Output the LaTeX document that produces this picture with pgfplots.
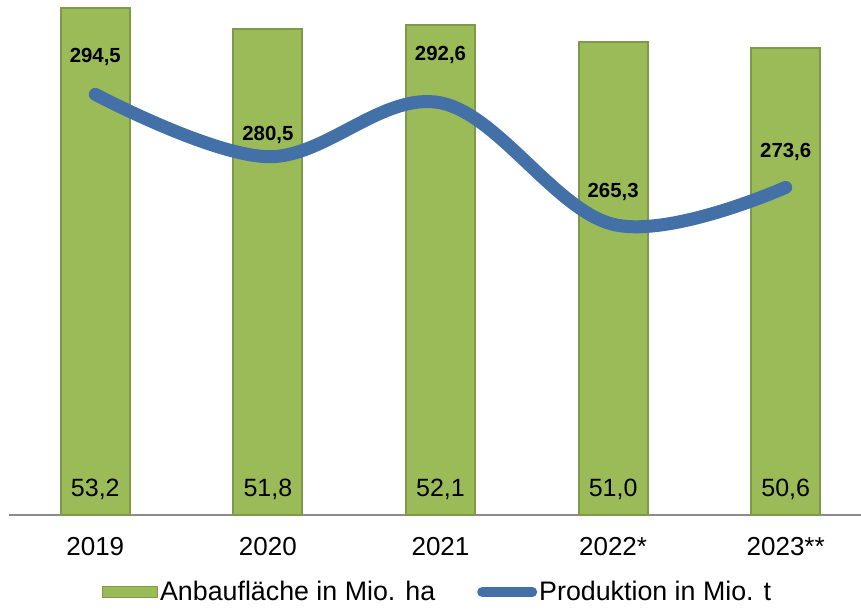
\documentclass[border=0pt]{standalone}
\usepackage{fontspec}
\setmainfont{Liberation Sans}
\usepackage{pgfplots}
\usepackage{pgfplotstable}
\pgfplotsset{compat=1.18}

\definecolor{bargreen}{HTML}{9BBB59}
\definecolor{baredge}{HTML}{7E9A48}
\definecolor{lineblue}{HTML}{4470A8}
\definecolor{axisgray}{HTML}{8C8C8C}

% x = position, area = Anbauflaeche, prod = Produktion, ly = label height (prod units)
\pgfplotstableread{
x area prod ly
0 53.2 294.5 302.9
1 51.8 280.5 285.4
2 52.1 292.6 303.3
3 51.0 265.3 272.6
4 50.6 273.6 281.6
}\datatable

\pgfplotsset{
  common/.style={
    at={(4.5pt,47.5pt)}, anchor=south west,
    scale only axis, width=431.5pt, height=257.5pt,
    xmin=-0.5, xmax=4.5,
    /pgf/number format/assume math mode=true,
    /pgf/number format/use comma,
    /pgf/number format/fixed,
    /pgf/number format/fixed zerofill,
    /pgf/number format/precision=1,
  },
}

\begin{document}
\begin{tikzpicture}
\useasboundingbox (0pt,0pt) rectangle (430.5pt,305pt);

% bars: Anbauflaeche
\begin{axis}[common,
    ymin=20, ymax=53.72,
    hide y axis,
    axis x line*=bottom,
    x axis line style={axisgray, line width=1pt, -},
    xtick=data, xticklabels={2019,2020,2021,2022*,2023**},
    major tick length=0pt,
    xticklabel style={font=\fontsize{13}{15}\selectfont, anchor=north, yshift=-7.5pt},
]
\addplot[ybar, bar shift=0pt, bar width=0.4, fill=bargreen, draw=baredge, line width=1pt]
    table[x=x, y=area] {\datatable};
\addplot[only marks, mark=none, nodes near coords, point meta=\thisrow{area},
    every node near coord/.append style={anchor=center, font=\fontsize{12.5}{14}\selectfont}]
    table[x=x, y expr=21.67] {\datatable};
\end{axis}

% line: Produktion
\begin{axis}[common,
    ymin=200, ymax=315.7,
    hide axis,
    legend style={draw=none, fill=none, at={(0.4965,-0.1495)}, anchor=center,
        legend columns=2, font=\fontsize{13.4}{15}\selectfont,
        nodes={inner xsep=1pt},
        /tikz/every even column/.append style={column sep=20pt}},
]
\addlegendimage{legend image code/.code={
    \draw[fill=bargreen, draw=baredge, line width=0.6pt] (0pt,-2.75pt) rectangle (27.5pt,2.75pt);}}
\addlegendentry{Anbaufläche in Mio. ha}
\addplot[lineblue, line width=6.5pt, line cap=round, smooth, tension=0.6,
    legend image code/.code={
    \draw[lineblue, line width=5pt, line cap=round] (2.5pt,0pt) -- (27.5pt,0pt);}]
    table[x=x, y=prod] {\datatable};
\addlegendentry{Produktion in Mio. t}
\addplot[only marks, mark=none, nodes near coords, point meta=\thisrow{prod},
    every node near coord/.append style={anchor=center, font=\fontsize{10.2}{12}\selectfont\bfseries}]
    table[x=x, y=ly] {\datatable};
\end{axis}
\end{tikzpicture}
\end{document}
